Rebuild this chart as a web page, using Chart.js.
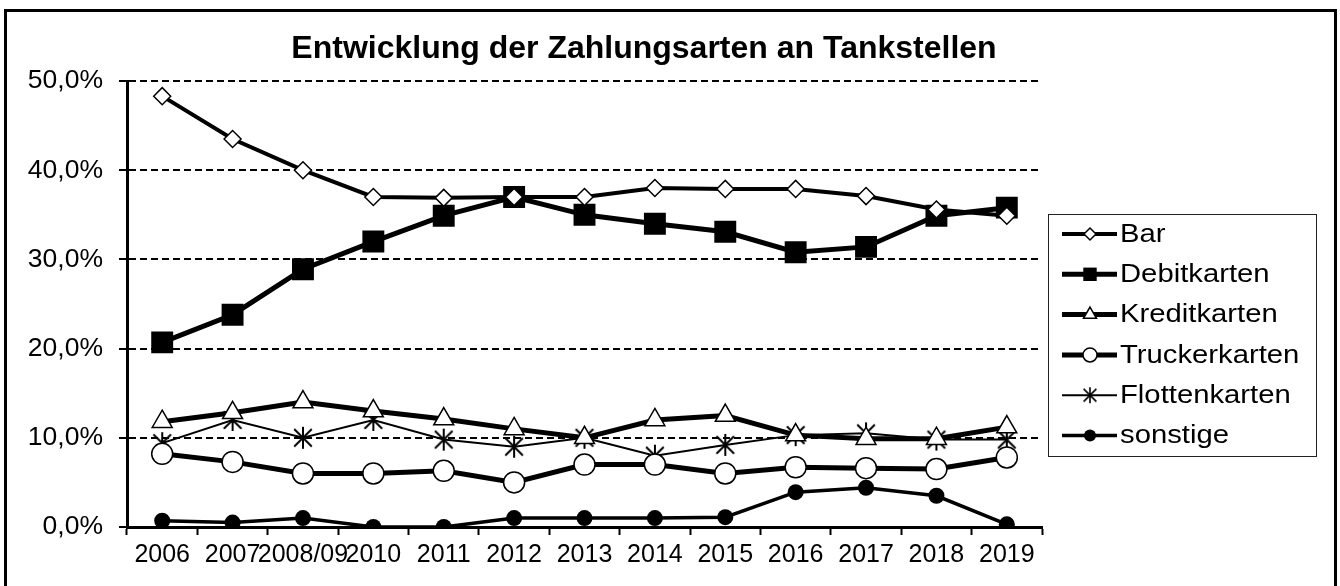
<!DOCTYPE html>
<html>
<head>
<meta charset="utf-8">
<script src="https://cdn.jsdelivr.net/npm/chart.js@4/dist/chart.umd.min.js"></script>
<style>
    html, body { margin: 0; padding: 0; background: #fff; }
    #wrap { width: 1340px; height: 586px; position: relative; }
</style>
</head>
<body>
<div id="wrap"><canvas id="chart"></canvas></div>
<script>
const years = ['2006', '2007', '2008/09', '2010', '2011', '2012', '2013', '2014', '2015', '2016', '2017', '2018', '2019']

const bar = [48.3, 43.5, 40.0, 37.0, 36.9, 37.0, 37.0, 38.0, 37.9, 37.9, 37.1, 35.6, 34.9]
const debit = [20.7, 23.8, 28.9, 32.0, 34.9, 37.0, 35.0, 34.0, 33.1, 30.8, 31.4, 34.9, 35.8]
const kredit = [11.8, 12.8, 14.0, 13.0, 12.1, 11.0, 10.0, 12.0, 12.5, 10.3, 9.9, 9.9, 11.2]
const trucker = [8.2, 7.3, 6.0, 6.0, 6.3, 5.0, 7.0, 7.0, 6.0, 6.7, 6.6, 6.5, 7.8]
const flotten = [9.4, 12.0, 10.0, 12.0, 9.8, 9.0, 10.0, 8.0, 9.2, 10.3, 10.5, 9.8, 9.8]
const sonstige = [0.7, 0.5, 1.0, 0.0, 0.0, 1.0, 1.0, 1.0, 1.1, 3.9, 4.4, 3.5, 0.3]

const yTicks = [0, 10, 20, 30, 40, 50]

const FONT = "'Liberation Sans', Arial, sans-serif"

// asterisk marker (vertical stroke + X), like the excel "*" marker
function asterisk(size, width) {
    const c = document.createElement('canvas')
    c.width = size
    c.height = size
    const g = c.getContext('2d')
    const m = size / 2
    const r = size / 2 - 1
    const d = r * 0.8
    g.strokeStyle = '#000'
    g.lineWidth = width
    g.beginPath()
    g.moveTo(m, m - r); g.lineTo(m, m + r)
    g.moveTo(m - d, m - d); g.lineTo(m + d, m + d)
    g.moveTo(m + d, m - d); g.lineTo(m - d, m + d)
    g.stroke()
    return c
}

const starBig = asterisk(24, 2)
const starSmall = asterisk(18, 1.6)

function series(label, data, lineW, style, radius, fill, legendRadius, legendStyle) {
    return {
        label: label,
        data: data,
        borderColor: '#000',
        borderWidth: lineW,
        pointStyle: style,
        pointRadius: radius,
        pointBackgroundColor: fill,
        pointBorderColor: '#000',
        pointBorderWidth: fill === '#000' ? 0 : 1.5,
        tension: 0,
        legendRadius: legendRadius,
        legendStyle: legendStyle || style
    }
}

const datasets = [
    series('Bar', bar, 4, 'rectRot', 8.5, '#fff', 6),
    series('Debitkarten', debit, 5, 'rect', 15.5, '#000', 9.5),
    series('Kreditkarten', kredit, 5, 'triangle', 11.5, '#fff', 7.5),
    series('Truckerkarten', trucker, 5, 'circle', 10.5, '#fff', 7),
    series('Flottenkarten', flotten, 2, starBig, 10, '#fff', 7, starSmall),
    series('sonstige', sonstige, 3.5, 'circle', 8, '#000', 6)
]

const frame = {
    id: 'frame',
    afterDraw(chart) {
        const ctx = chart.ctx
        ctx.save()
        // outer border
        ctx.strokeStyle = '#000'
        ctx.lineWidth = 3
        ctx.strokeRect(5.5, 10.5, 1330, 600)

        // title
        ctx.fillStyle = '#000'
        ctx.font = 'bold 32px ' + FONT
        ctx.textAlign = 'center'
        ctx.textBaseline = 'middle'
        ctx.fillText('Entwicklung der Zahlungsarten an Tankstellen', 644, 49)

        // legend box
        ctx.lineWidth = 1
        ctx.strokeStyle = '#222'
        ctx.strokeRect(1048.5, 214.5, 268, 242)

        chart.data.datasets.forEach((ds, i) => {
            const y = 234 + i * 40.3
            ctx.strokeStyle = '#000'
            ctx.lineWidth = ds.borderWidth
            ctx.beginPath()
            ctx.moveTo(1062, y)
            ctx.lineTo(1117, y)
            ctx.stroke()
            ctx.fillStyle = ds.pointBackgroundColor
            ctx.lineWidth = ds.pointBorderWidth
            Chart.helpers.drawPoint(ctx, {
                pointStyle: ds.legendStyle,
                radius: ds.legendRadius,
                rotation: 0,
                borderWidth: ds.pointBorderWidth
            }, 1090, y)

            ctx.save()
            ctx.translate(1120, y)
            ctx.scale(1.17, 1)
            ctx.fillStyle = '#000'
            ctx.font = '25px ' + FONT
            ctx.textAlign = 'left'
            ctx.textBaseline = 'middle'
            ctx.fillText(ds.label, 0, 1)
            ctx.restore()
        })
        ctx.restore()
    }
}

new Chart(document.getElementById('chart'), {
    type: 'line',
    data: { labels: years, datasets: datasets },
    options: {
        responsive: true,
        maintainAspectRatio: false,
        animation: false,
        events: [],
        layout: { padding: { top: 81, left: 0, right: 298, bottom: 0 } },
        plugins: {
            legend: { display: false },
            title: { display: false },
            tooltip: { enabled: false }
        },
        scales: {
            x: {
                offset: true,
                afterFit(scale) { scale.height = 59 },
                grid: {
                    offset: true,
                    drawOnChartArea: false,
                    drawTicks: true,
                    tickLength: 8,
                    tickWidth: 2,
                    tickColor: '#000'
                },
                border: { display: true, width: 3, color: '#000' },
                ticks: {
                    autoSkip: false,
                    maxRotation: 0,
                    minRotation: 0,
                    padding: 5,
                    color: '#000',
                    font: { family: FONT, size: 25 }
                }
            },
            y: {
                min: 0,
                max: 50,
                afterFit(scale) { scale.width = 127 },
                afterBuildTicks(scale) { scale.ticks = yTicks.map(v => ({ value: v })) },
                grid: {
                    color: '#000',
                    lineWidth: 2,
                    drawTicks: true,
                    tickLength: 8,
                    tickWidth: 2,
                    tickColor: '#000',
                    tickBorderDash: []
                },
                border: { display: true, width: 3, color: '#000', dash: [7, 4] },
                ticks: {
                    padding: 16,
                    color: '#000',
                    font: { family: FONT, size: 26.5 },
                    callback: v => v.toFixed(1).replace('.', ',') + '%'
                }
            }
        }
    },
    plugins: [frame]
})
</script>
</body>
</html>
